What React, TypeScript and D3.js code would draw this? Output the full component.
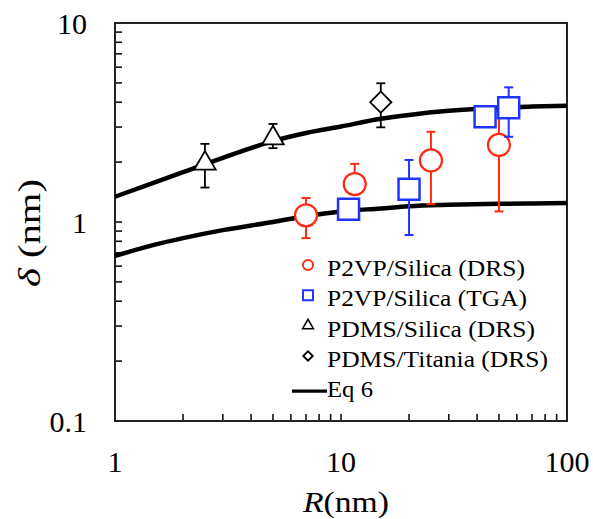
import React from 'react';
import * as d3 from 'd3';

// P2VP/Silica (DRS)
const circleR = [7, 11.5, 25, 50];
const circleDelta = [1.08, 1.55, 2.04, 2.44];
const circleHigh = [1.32, 1.96, 2.84, 3.6];
const circleLow = [0.83, 1.55, 1.23, 1.13];

// P2VP/Silica (TGA)
const squareR = [10.8, 20, 43.4, 55.2];
const squareDelta = [1.16, 1.46, 3.38, 3.75];
const squareHigh = [1.16, 2.05, 3.38, 4.75];
const squareLow = [1.16, 0.86, 3.38, 2.68];

// PDMS/Silica (DRS)
const triangleR = [2.5, 5];
const triangleDelta = [1.97, 2.64];
const triangleHigh = [2.47, 3.11];
const triangleLow = [1.49, 2.35];

// PDMS/Titania (DRS)
const diamondR = [15];
const diamondDelta = [4.0];
const diamondHigh = [4.98];
const diamondLow = [2.99];

// Eq 6 curves
const eqR = [1, 1.5, 2, 3, 5, 7, 10, 15, 20, 30, 50, 70, 100];
const eqUpper = [1.34, 1.58, 1.78, 2.1, 2.55, 2.8, 3.02, 3.3, 3.45, 3.62, 3.75, 3.8, 3.84];
const eqLower = [0.675, 0.77, 0.83, 0.91, 1.0, 1.07, 1.13, 1.17, 1.2, 1.22, 1.235, 1.24, 1.245];

const xTickValues = [1, 10, 100];
const xTickLabels = ['1', '10', '100'];
const yTickValues = [0.1, 1, 10];
const yTickLabels = ['0.1', '1', '10'];

const legendLabels = [
  'P2VP/Silica (DRS)',
  'P2VP/Silica (TGA)',
  'PDMS/Silica (DRS)',
  'PDMS/Titania (DRS)',
  'Eq 6',
];

const RED = '#ff2a12';
const BLUE = '#1f35ff';
const FONT = "'Liberation Serif'";

const width = 593;
const height = 519;
const margin = { top: 23, right: 26, bottom: 98, left: 115 };
const innerW = width - margin.left - margin.right;
const innerH = height - margin.top - margin.bottom;

const x = d3.scaleLog().domain([1, 100]).range([0, innerW]);
const y = d3.scaleLog().domain([0.1, 10]).range([innerH, 0]);

// minor + major ticks, pointing inward
const xTicks = [2, 3, 4, 5, 6, 7, 8, 9, 10, 20, 30, 40, 50, 60, 70, 80, 90];
const yTicks = [0.2, 0.3, 0.4, 0.5, 0.6, 0.7, 0.8, 0.9, 1, 2, 3, 4, 5, 6, 7, 8, 9];

const line = d3
  .line<number>()
  .x((d, i) => x(eqR[i]))
  .y((d) => y(d))
  .curve(d3.curveMonotoneX);

const sym = (type, size) => d3.symbol().type(type).size(size)();

const ErrorBars = ({ rs, lo, hi, color, sw }) => (
  <g stroke={color} strokeWidth={sw}>
    {rs.map((r, i) => {
      const cx = x(r);
      return (
        <g key={i}>
          <line x1={cx} x2={cx} y1={y(lo[i])} y2={y(hi[i])} />
          {hi[i] !== lo[i] &&
            [lo[i], hi[i]].map((v, j) =>
              v !== (j === 0 ? hi[i] : lo[i]) ? (
                <line key={j} x1={cx - 4.5} x2={cx + 4.5} y1={y(v)} y2={y(v)} />
              ) : null
            )}
        </g>
      );
    })}
  </g>
);

const Markers = ({ rs, ds, type, size, color, sw, rot = 0 }) => (
  <g>
    {rs.map((r, i) => (
      <path
        key={i}
        d={sym(type, size)}
        transform={`translate(${x(r)},${y(ds[i])}) rotate(${rot})`}
        fill="#fff"
        stroke={color}
        strokeWidth={sw}
      />
    ))}
  </g>
);

const legendX = 308;
const legendBase = 276;
const legendStep = 30.3;
const legendWidths = [198, 200, 208, 221, 46];
const legendSyms = [
  { type: d3.symbolCircle, size: Math.PI * 25, color: RED, sw: 2, rot: 0 },
  { type: d3.symbolSquare, size: 100, color: BLUE, sw: 2, rot: 0 },
  { type: d3.symbolTriangle, size: 50, color: '#000', sw: 1.6, rot: 0 },
  { type: d3.symbolSquare, size: 45, color: '#000', sw: 1.8, rot: 45 },
];

const App = () => (
  <svg
    width={width}
    height={height}
    style={{ position: 'absolute', left: 0, top: 0, background: '#fff', fontFamily: FONT }}
  >
    <g transform={`translate(${margin.left},${margin.top})`}>
      {xTicks.map((t) => (
        <line key={'x' + t} x1={x(t)} x2={x(t)} y1={innerH} y2={innerH - 7} stroke="#111" strokeWidth={1.6} />
      ))}
      {yTicks.map((t) => (
        <line key={'y' + t} x1={0} x2={7} y1={y(t)} y2={y(t)} stroke="#111" strokeWidth={1.6} />
      ))}
      <rect width={innerW} height={innerH} fill="none" stroke="#222" strokeWidth={2} />

      {xTickValues.map((v, i) => (
        <text key={v} x={x(v)} y={innerH + 51} textAnchor="middle" fontSize={30} style={{ fontFamily: FONT }}>
          {xTickLabels[i]}
        </text>
      ))}
      {yTickValues.map((v, i) => (
        <text key={v} x={-28} y={y(v) + 11} textAnchor="end" fontSize={30} style={{ fontFamily: FONT }}>
          {yTickLabels[i]}
        </text>
      ))}

      {[eqUpper, eqLower].map((s, i) => (
        <path key={i} d={line(s)} fill="none" stroke="#000" strokeWidth={4.5} />
      ))}

      <ErrorBars rs={circleR} lo={circleLow} hi={circleHigh} color={RED} sw={2} />
      <Markers rs={circleR} ds={circleDelta} type={d3.symbolCircle} size={Math.PI * 121} color={RED} sw={2.2} />

      <ErrorBars rs={squareR} lo={squareLow} hi={squareHigh} color={BLUE} sw={2} />
      <Markers rs={squareR} ds={squareDelta} type={d3.symbolSquare} size={441} color={BLUE} sw={2.5} />

      <ErrorBars rs={triangleR} lo={triangleLow} hi={triangleHigh} color="#000" sw={1.8} />
      <Markers rs={triangleR} ds={triangleDelta} type={d3.symbolTriangle} size={200} color="#000" sw={1.8} />

      <ErrorBars rs={diamondR} lo={diamondLow} hi={diamondHigh} color="#000" sw={1.8} />
      <Markers rs={diamondR} ds={diamondDelta} type={d3.symbolSquare} size={225} color="#000" sw={1.8} rot={45} />
    </g>

    <text x={303} y={512} fontSize={30} textLength={86} lengthAdjust="spacingAndGlyphs" style={{ fontFamily: FONT }}>
      <tspan fontStyle="italic">R</tspan>
      <tspan>(nm)</tspan>
    </text>
    <text
      transform="translate(40,287) rotate(-90)"
      fontSize={31}
      textLength={108}
      lengthAdjust="spacingAndGlyphs"
      style={{ fontFamily: FONT }}
    >
      <tspan fontStyle="italic">δ</tspan>
      <tspan> (nm)</tspan>
    </text>

    {legendLabels.map((label, i) => {
      const by = legendBase + i * legendStep;
      const s = legendSyms[i];
      return (
        <g key={label}>
          {s ? (
            <path
              d={sym(s.type, s.size)}
              transform={`translate(${legendX},${by - 11}) rotate(${s.rot})`}
              fill="#fff"
              stroke={s.color}
              strokeWidth={s.sw}
            />
          ) : (
            <line x1={legendX - 16} x2={legendX + 19} y1={by - 6} y2={by - 6} stroke="#000" strokeWidth={3.2} />
          )}
          <text
            x={legendX + 19}
            y={by}
            fontSize={24}
            textLength={legendWidths[i]}
            lengthAdjust="spacingAndGlyphs"
            style={{ fontFamily: FONT }}
          >
            {label}
          </text>
        </g>
      );
    })}
  </svg>
);

export default App;
